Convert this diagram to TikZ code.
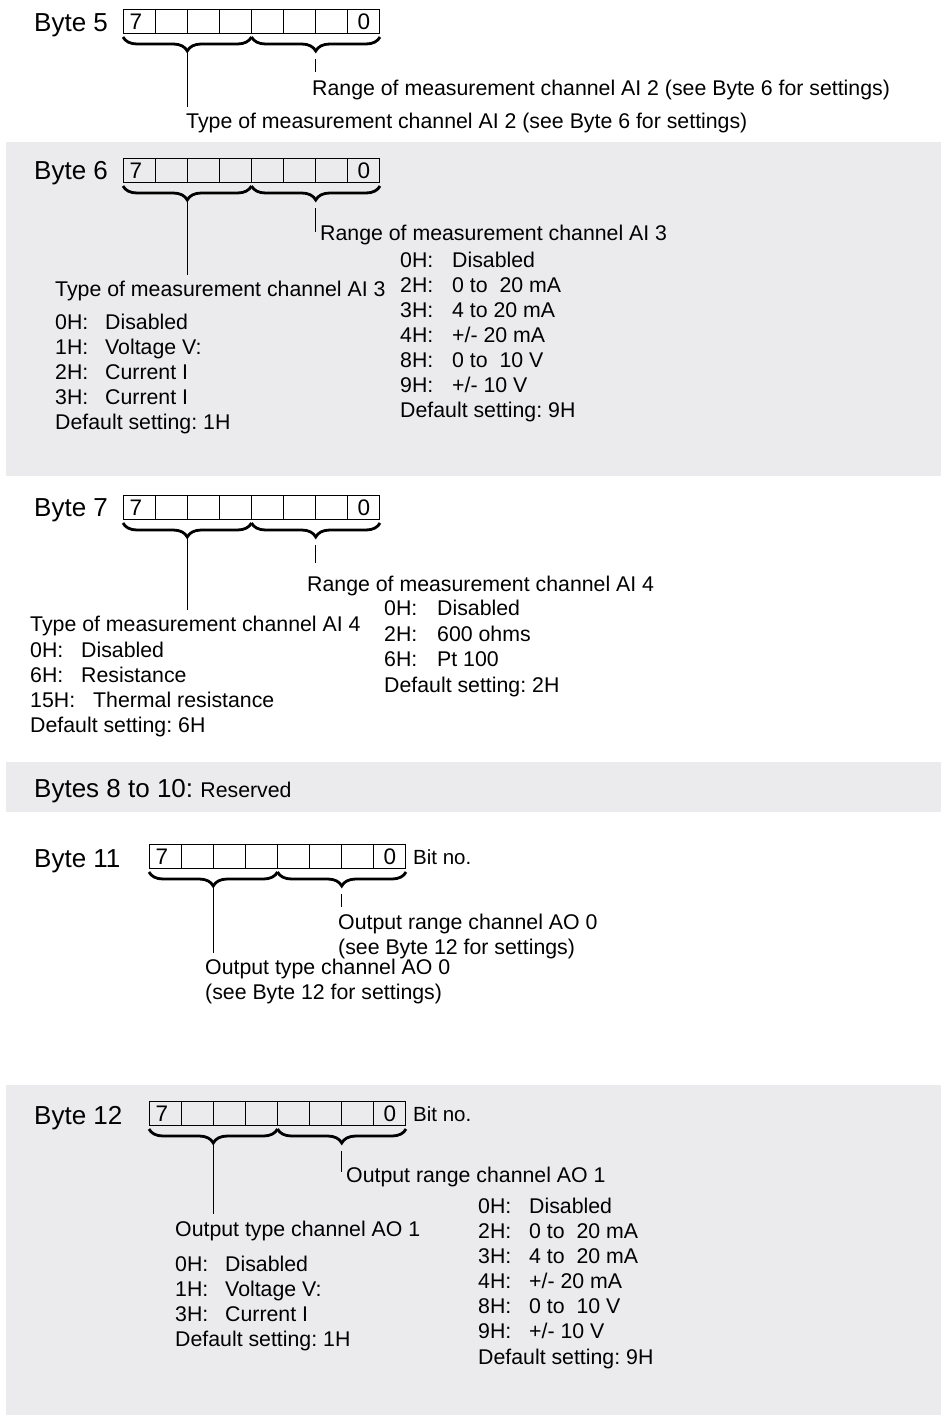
\documentclass[tikz,border=0pt]{standalone}
\usepackage{fontspec}
\setmainfont{Liberation Sans}
\frenchspacing
\usetikzlibrary{decorations.pathreplacing,calc}
\definecolor{panel}{RGB}{235,235,237}
\newcommand\kvpair[3]{\makebox[#1][l]{#2}#3}
\newcommand\bytecells[1]{%
  \foreach \k in {1,...,7}{\draw[lead] ([xshift=\k*32pt]#1.north west) -- ([xshift=\k*32pt]#1.south west);}%
  \node[bitnum] (#1-hi) at ($(#1.west)+(13,8)$) {7};%
  \node[bitnum] (#1-lo) at ($(#1.east)+(-16,8)$) {0};%
  \coordinate (#1-l) at ($(#1.south west)+(0,3)$);%
  \coordinate (#1-m) at ($(#1.south)+(0,3)$);%
  \coordinate (#1-r) at ($(#1.south east)+(0,3)$);%
  \draw[brc] (#1-l) -- (#1-m);%
  \draw[brc] (#1-m) -- (#1-r);%
  \coordinate (#1-ta) at ($(#1-l)!0.5!(#1-m)+(0,15)$);%
  \coordinate (#1-tb) at ($(#1-m)!0.5!(#1-r)+(0,18)$);%
}
\begin{document}
\begin{tikzpicture}[x=1pt,y=-1pt,
  txt/.style={anchor=base west, inner sep=0pt, font=\fontsize{21.3}{25}\selectfont},
  bytelabel/.style={anchor=base west, inner sep=0pt, font=\fontsize{26}{30}\selectfont},
  bytebox/.style={draw, line width=1pt, minimum width=256pt, minimum height=24pt, inner sep=0pt, anchor=north west},
  bitnum/.style={anchor=base, inner sep=0pt, font=\fontsize{22.5}{26}\selectfont},
  bitno/.style={anchor=base west, inner sep=0pt, font=\fontsize{20.5}{24}\selectfont},
  brc/.style={decorate, decoration={brace, mirror, amplitude=14pt}, line width=2.8pt},
  lead/.style={line width=1pt},
  panelbg/.style={fill=panel, draw=none}]
\useasboundingbox (0,0) rectangle (943,1416);
% panels
\fill[panelbg] (6,142) rectangle (941,476);
\fill[panelbg] (6,762) rectangle (941,812);
\fill[panelbg] (6,1085) rectangle (941,1415);

% ---------------- Byte 5
\node[bytelabel] (l5) at (34,31) {Byte 5};
\node[bytebox] (b5) at (123,9) {};
\bytecells{b5}
\node[txt] (r5) at (312,95) {Range of measurement channel AI 2 (see Byte 6 for settings)};
\node[txt] (y5) at (186,128) {Type of measurement channel AI 2 (see Byte 6 for settings)};
\coordinate (e5a) at (b5-ta |- 0,107);
\coordinate (s5b) at ($(b5-tb)+(0,4)$);
\coordinate (e5b) at (b5-tb |- 0,72);
\draw[lead] (b5-ta) -- (e5a);
\draw[lead] (s5b) -- (e5b);

% ---------------- Byte 6
\node[bytelabel] (l6) at (34,179) {Byte 6};
\node[bytebox] (b6) at (123,158) {};
\bytecells{b6}
\node[txt] (r6) at (320,240) {Range of measurement channel AI 3};
\node[txt] (y6) at (55,296) {Type of measurement channel AI 3};
\coordinate (e6a) at (b6-ta |- 0,275);
\coordinate (s6b) at ($(b6-tb)+(0,4)$);
\coordinate (e6b) at (b6-tb |- 0,232);
\draw[lead] (b6-ta) -- (e6a);
\draw[lead] (s6b) -- (e6b);
\node[txt] (r6a) at (400,267) {\kvpair{52pt}{0H:}{Disabled}};
\node[txt] (r6b) at (400,292) {\kvpair{52pt}{2H:}{0 to\ \ 20 mA}};
\node[txt] (r6c) at (400,317) {\kvpair{52pt}{3H:}{4 to 20 mA}};
\node[txt] (r6d) at (400,342) {\kvpair{52pt}{4H:}{+/- 20 mA}};
\node[txt] (r6e) at (400,367) {\kvpair{52pt}{8H:}{0 to\ \ 10 V}};
\node[txt] (r6f) at (400,392) {\kvpair{52pt}{9H:}{+/- 10 V}};
\node[txt] (r6g) at (400,417) {Default setting: 9H};
\node[txt] (y6a) at (55,329) {\kvpair{50pt}{0H:}{Disabled}};
\node[txt] (y6b) at (55,354) {\kvpair{50pt}{1H:}{Voltage V:}};
\node[txt] (y6c) at (55,379) {\kvpair{50pt}{2H:}{Current I}};
\node[txt] (y6d) at (55,404) {\kvpair{50pt}{3H:}{Current I}};
\node[txt] (y6e) at (55,429) {Default setting: 1H};

% ---------------- Byte 7
\node[bytelabel] (l7) at (34,516) {Byte 7};
\node[bytebox] (b7) at (123,495) {};
\bytecells{b7}
\node[txt] (r7) at (307,591) {Range of measurement channel AI 4};
\node[txt] (y7) at (30,631) {Type of measurement channel AI 4};
\coordinate (e7a) at (b7-ta |- 0,610);
\coordinate (s7b) at ($(b7-tb)+(0,4)$);
\coordinate (e7b) at (b7-tb |- 0,563);
\draw[lead] (b7-ta) -- (e7a);
\draw[lead] (s7b) -- (e7b);
\node[txt] (y7a) at (30,657) {\kvpair{51pt}{0H:}{Disabled}};
\node[txt] (y7b) at (30,682) {\kvpair{51pt}{6H:}{Resistance}};
\node[txt] (y7c) at (30,707) {\kvpair{63pt}{15H:}{Thermal resistance}};
\node[txt] (y7d) at (30,732) {Default setting: 6H};
\node[txt] (r7a) at (384,615) {\kvpair{53pt}{0H:}{Disabled}};
\node[txt] (r7b) at (384,641) {\kvpair{53pt}{2H:}{600 ohms}};
\node[txt] (r7c) at (384,666) {\kvpair{53pt}{6H:}{Pt 100}};
\node[txt] (r7d) at (384,692) {Default setting: 2H};

% ---------------- Bytes 8 to 10
\node[bytelabel] (l8) at (34,797) {Bytes 8 to 10: {\fontsize{21.3}{25}\selectfont Reserved}};

% ---------------- Byte 11
\node[bytelabel] (l11) at (34,867) {Byte 11};
\node[bytebox] (b11) at (149,844) {};
\bytecells{b11}
\node[bitno] (n11) at (413,864) {Bit no.};
\node[txt] (r11) at (338,929) {Output range channel AO 0};
\node[txt] (r11s) at (338,954) {(see Byte 12 for settings)};
\node[txt] (y11) at (205,974) {Output type channel AO 0};
\node[txt] (y11s) at (205,999) {(see Byte 12 for settings)};
\coordinate (e11a) at (b11-ta |- 0,953);
\coordinate (s11b) at ($(b11-tb)+(0,4)$);
\coordinate (e11b) at (b11-tb |- 0,907);
\draw[lead] (b11-ta) -- (e11a);
\draw[lead] (s11b) -- (e11b);

% ---------------- Byte 12
\node[bytelabel] (l12) at (34,1124) {Byte 12};
\node[bytebox] (b12) at (149,1101) {};
\bytecells{b12}
\node[bitno] (n12) at (413,1121) {Bit no.};
\node[txt] (r12) at (346,1182) {Output range channel AO 1};
\node[txt] (y12) at (175,1236) {Output type channel AO 1};
\coordinate (e12a) at (b12-ta |- 0,1214);
\coordinate (s12b) at ($(b12-tb)+(0,4)$);
\coordinate (e12b) at (b12-tb |- 0,1172);
\draw[lead] (b12-ta) -- (e12a);
\draw[lead] (s12b) -- (e12b);
\node[txt] (y12a) at (175,1271) {\kvpair{50pt}{0H:}{Disabled}};
\node[txt] (y12b) at (175,1296) {\kvpair{50pt}{1H:}{Voltage V:}};
\node[txt] (y12c) at (175,1321) {\kvpair{50pt}{3H:}{Current I}};
\node[txt] (y12d) at (175,1346) {Default setting: 1H};
\node[txt] (r12a) at (478,1213) {\kvpair{51pt}{0H:}{Disabled}};
\node[txt] (r12b) at (478,1238) {\kvpair{51pt}{2H:}{0 to\ \ 20 mA}};
\node[txt] (r12c) at (478,1263) {\kvpair{51pt}{3H:}{4 to\ \ 20 mA}};
\node[txt] (r12d) at (478,1288) {\kvpair{51pt}{4H:}{+/- 20 mA}};
\node[txt] (r12e) at (478,1313) {\kvpair{51pt}{8H:}{0 to\ \ 10 V}};
\node[txt] (r12f) at (478,1338) {\kvpair{51pt}{9H:}{+/- 10 V}};
\node[txt] (r12g) at (478,1364) {Default setting: 9H};
\end{tikzpicture}
\end{document}
